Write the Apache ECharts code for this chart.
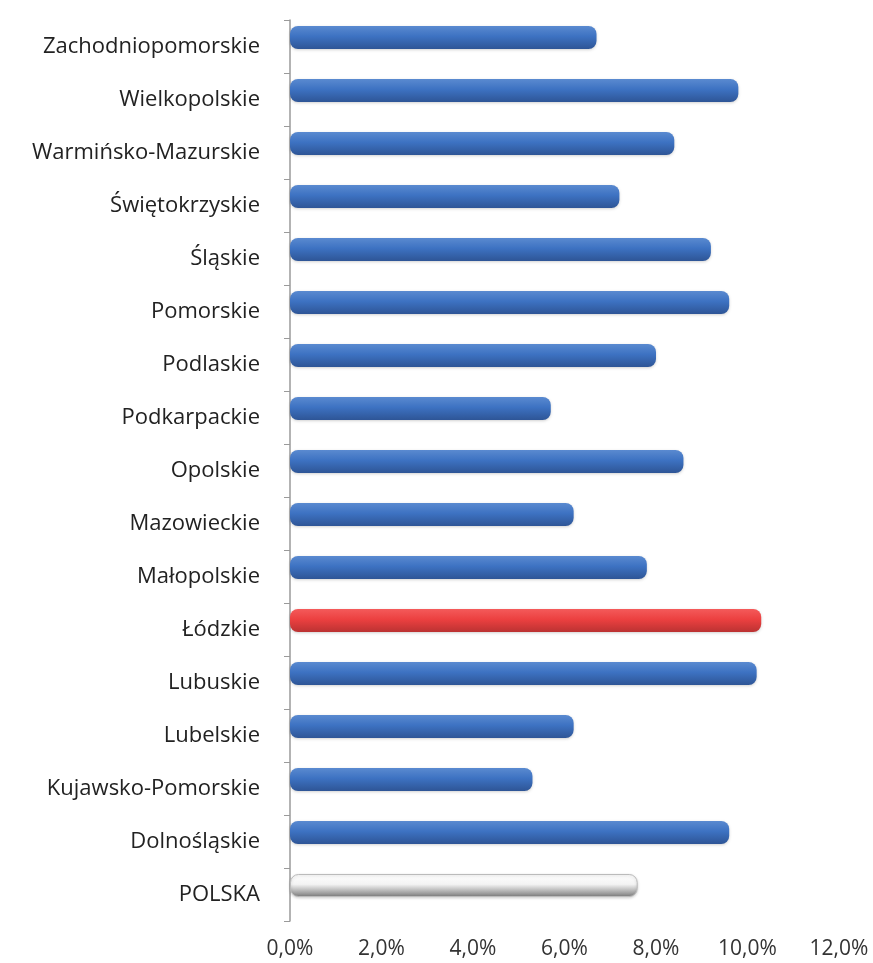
<!DOCTYPE html>
<html>
<head>
<meta charset="utf-8">
<script src="https://cdn.jsdelivr.net/npm/echarts@6/dist/echarts.min.js"></script>
<style>html,body{margin:0;padding:0;background:#fff}#c{width:873px;height:963px}</style>
</head>
<body>
<div id="c"></div>
<script>
const categories = ["Zachodniopomorskie","Wielkopolskie","Warmińsko-Mazurskie","Świętokrzyskie","Śląskie","Pomorskie","Podlaskie","Podkarpackie","Opolskie","Mazowieckie","Małopolskie","Łódzkie","Lubuskie","Lubelskie","Kujawsko-Pomorskie","Dolnośląskie","POLSKA"];
const values = [6.7, 9.8, 8.4, 7.2, 9.2, 9.6, 8.0, 5.7, 8.6, 6.2, 7.8, 10.3, 10.2, 6.2, 5.3, 9.6, 7.6];
const highlight = "Łódzkie";
const total = "POLSKA";

function grad(c1, c2, c3) {
  return new echarts.graphic.LinearGradient(0, 0, 0, 1, [
    {offset: 0, color: c1}, {offset: 0.45, color: c2}, {offset: 1, color: c3}
  ]);
}
const blue = grad('#5a8ad0', '#3d72c2', '#2e5596');
const red = grad('#f45a5a', '#ec4040', '#bb3232');
const grey = grad('#ffffff', '#f3f3f3', '#7a7a7a');

const data = values.map((v, i) => {
  const name = categories[i];
  let color = blue;
  if (name === highlight) color = red;
  if (name === total) color = grey;
  return {value: v, itemStyle: {color: color, borderColor: name === total ? '#bbbbbb' : 'rgba(0,0,0,0)', borderWidth: name === total ? 1 : 0}};
});

const chart = echarts.init(document.getElementById('c'));
chart.setOption({
  animation: false,
  grid: [
    {left: 290, right: 34, top: 20, bottom: 42, containLabel: false},
    {left: 290, right: 34, top: 11, bottom: 51, containLabel: false}
  ],
  xAxis: [{
    gridIndex: 0, type: 'value', min: 0, max: 12, interval: 2,
    axisLine: {show: false}, axisTick: {show: false}, splitLine: {show: false},
    axisLabel: {
      margin: 18, fontFamily: 'Open Sans', fontSize: 21, color: '#333',
      formatter: v => v.toFixed(1).replace('.', ',') + '%'
    }
  }, {
    gridIndex: 1, type: 'value', min: 0, max: 12, interval: 2, show: false
  }],
  yAxis: [{
    gridIndex: 0, type: 'category', data: categories, inverse: true,
    axisLine: {show: true, lineStyle: {color: '#9a9a9a', width: 1.5}},
    axisTick: {show: true, length: 6, lineStyle: {color: '#9a9a9a'}},
    axisLabel: {margin: 30, fontFamily: 'Open Sans', fontSize: 22, color: '#222', padding: [4, 0, 0, 0]}
  }, {
    gridIndex: 1, type: 'category', data: categories, inverse: true, show: false
  }],
  series: [{
    type: 'bar', xAxisIndex: 1, yAxisIndex: 1, data: data, barWidth: 23,
    itemStyle: {borderRadius: 8, shadowColor: 'rgba(0,0,0,0.18)', shadowBlur: 3, shadowOffsetY: 1}
  }]
});
</script>
</body>
</html>
